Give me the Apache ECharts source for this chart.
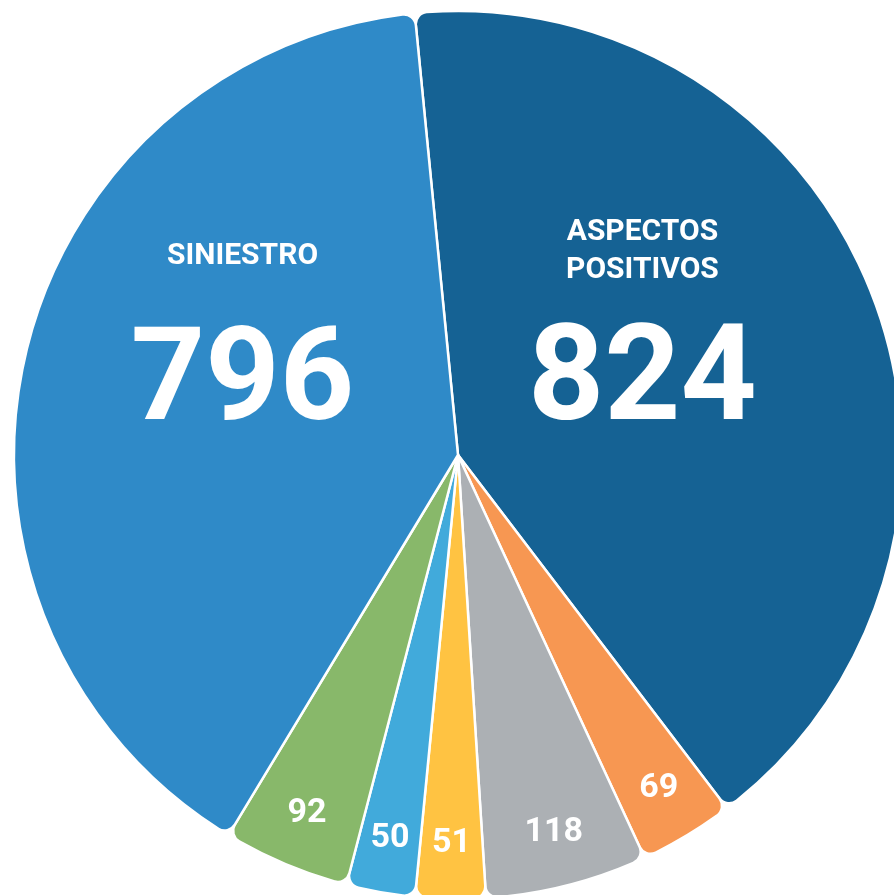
<!DOCTYPE html>
<html>
<head>
<meta charset="utf-8">
<script src="https://cdn.jsdelivr.net/npm/echarts@6/dist/echarts.min.js"></script>
<style>
  html, body { margin: 0; padding: 0; background: #fff; }
  #main { width: 894px; height: 895px; }
</style>
</head>
<body>
<div id="main"></div>
<script>
// valores, en sentido horario desde arriba
const names = ['ASPECTOS\nPOSITIVOS', 'Categoría 2', 'Categoría 3', 'Categoría 4', 'Categoría 5', 'Categoría 6', 'SINIESTRO']
const values = [824, 69, 118, 51, 50, 92, 796]
const colors = ['#156294', '#F79752', '#ACB0B4', '#FFC342', '#41AADB', '#88B86A', '#2F8AC8']
// las dos porciones grandes llevan título + número grande
const bigSlices = ['ASPECTOS\nPOSITIVOS', 'SINIESTRO']

const chart = echarts.init(document.getElementById('main'))

const fontFamily = 'Roboto, "Liberation Sans", sans-serif'

const mainData = names.map((n, i) => ({
  name: n,
  value: values[i],
  itemStyle: { color: colors[i] },
  label: { show: bigSlices.includes(n) }
}))

const smallData = names.map((n, i) => ({
  name: n,
  value: values[i],
  label: { show: !bigSlices.includes(n) }
}))

const option = {
  animation: false,
  series: [
    {
      type: 'pie',
      center: [458, 455],
      radius: [0, 444],
      startAngle: 95.6,
      clockwise: true,
      silent: true,
      itemStyle: {
        borderColor: '#fff',
        borderWidth: 2.5,
        borderRadius: [0, 12]
      },
      label: {
        position: 'inside',
        color: '#fff',
        fontFamily: fontFamily,
        formatter: p => '{t|' + p.name + '}\n{' + (p.dataIndex === 0 ? 'va' : 'vb') + '|' + p.value + '}',
        rich: {
          t: { fontSize: 30, fontWeight: 'bold', lineHeight: 38, color: '#fff', fontFamily: fontFamily },
          va: { fontSize: 133, fontWeight: 'bold', lineHeight: 192, color: '#fff', fontFamily: fontFamily },
          vb: { fontSize: 130, fontWeight: 'bold', lineHeight: 222, color: '#fff', fontFamily: fontFamily }
        }
      },
      labelLine: { show: false },
      labelLayout: function (params) {
        if (params.dataIndex === 0) return { dx: -25, dy: -25 }
        return { dx: 4, dy: -38 }
      },
      data: mainData
    },
    {
      // anillo transparente solo para colocar las etiquetas pequeñas cerca del borde
      type: 'pie',
      center: [458, 455],
      radius: [328, 444],
      startAngle: 95.6,
      clockwise: true,
      silent: true,
      itemStyle: { color: 'transparent', borderWidth: 0 },
      label: {
        position: 'inside',
        color: '#fff',
        fontSize: 34,
        fontWeight: 'bold',
        fontFamily: fontFamily,
        formatter: '{c}'
      },
      labelLine: { show: false },
      data: smallData
    }
  ]
}

chart.setOption(option)
window.addEventListener('resize', () => {
  chart.resize()
})
</script>
</body>
</html>
